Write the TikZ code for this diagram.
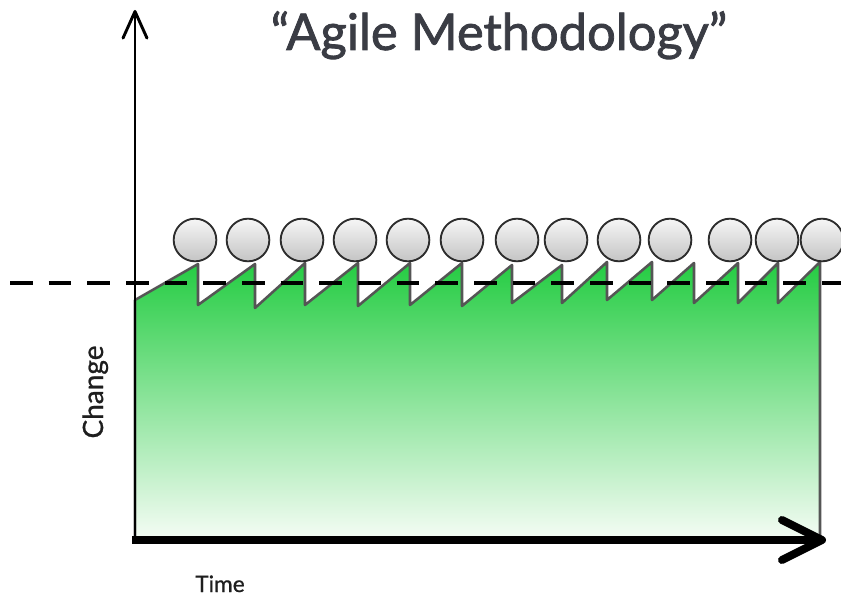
\documentclass[tikz,border=0pt]{standalone}
\usepackage{fontspec}
\setmainfont{Lato}
\newfontfamily\headfont{Lato}[FakeBold=1.6]
\newfontfamily\labelfont{Lato}[FakeBold=0.8]
\usepackage{tikz}
\usetikzlibrary{arrows.meta}

\begin{document}
\begin{tikzpicture}[x=0.75pt,y=0.75pt,yscale=-1,xscale=1,
        bubble/.style={circle, draw={rgb, 255:red, 45; green, 45; blue, 45}, line width=1.4pt, minimum size=32pt, inner sep=0pt, top color={rgb, 255:red, 246; green, 246; blue, 246}, bottom color={rgb, 255:red, 196; green, 196; blue, 196}},
        axislabel/.style={text={rgb, 255:red, 30; green, 30; blue, 30}, inner sep=0.75pt}]
        \useasboundingbox (0,0) rectangle (841,602);

        \coordinate (origin) at (135,540);
        \coordinate (ytop) at (135,10);
        \coordinate (xstart) at (132,540);
        \coordinate (xend) at (826,540);
        \coordinate (dashL) at (10,283);
        \coordinate (dashR) at (841,283);

        % change area with the sprints
        \draw [draw={rgb, 255:red, 85; green, 85; blue, 85}, line width=1.9pt, line join=round, top color={rgb, 255:red, 36; green, 204; blue, 66}, bottom color={rgb, 255:red, 244; green, 252; blue, 244}] (135,538) -- (135,300) -- (198,264) -- (198,305) -- (255,264) -- (255,308) -- (305,263) -- (305,305) -- (358,263) -- (358,306) -- (410,263) -- (410,305) -- (462,263) -- (462,306) -- (512,265) -- (512,303) -- (562,265) -- (562,303) -- (607,262) -- (607,300) -- (652,262) -- (652,300) -- (694,263) -- (694,303) -- (738,263) -- (738,303) -- (778,263) -- (778,303) -- (820,262) -- (820,538) -- cycle ;
        \draw [line width=3pt, dash pattern=on 17pt off 12pt] (dashL) -- (dashR) ;

        % iterations
        \node [bubble] (c1) at (195,240) {};
        \node [bubble] (c2) at (248,240) {};
        \node [bubble] (c3) at (302,240) {};
        \node [bubble] (c4) at (355,240) {};
        \node [bubble] (c5) at (408,240) {};
        \node [bubble] (c6) at (462,240) {};
        \node [bubble] (c7) at (517,240) {};
        \node [bubble] (c8) at (566,240) {};
        \node [bubble] (c9) at (619,240) {};
        \node [bubble] (c10) at (670,240) {};
        \node [bubble] (c11) at (730,240) {};
        \node [bubble] (c12) at (777,240) {};
        \node [bubble] (c13) at (822,240) {};

        % axes
        \draw [line width=2.2pt, -{Straight Barb[length=20pt, width=18pt, round]}] (origin) -- (ytop) ;
        \draw [line width=6pt, -{Straight Barb[length=30pt, width=30pt, round]}] (xstart) -- (xend) ;

        \node [anchor=base, text={rgb, 255:red, 58; green, 60; blue, 68}, font=\headfont\fontsize{38}{44}\selectfont, inner sep=0.75pt] (title) at (499,50) {“Agile Methodology”};
        \node [axislabel, anchor=base, rotate=90, font=\labelfont\fontsize{21}{25}\selectfont] (change) at (103,392) {Change};
        \node [axislabel, anchor=base, font=\labelfont\fontsize{17}{20}\selectfont] (time) at (220,592) {Time};
\end{tikzpicture}
\end{document}
